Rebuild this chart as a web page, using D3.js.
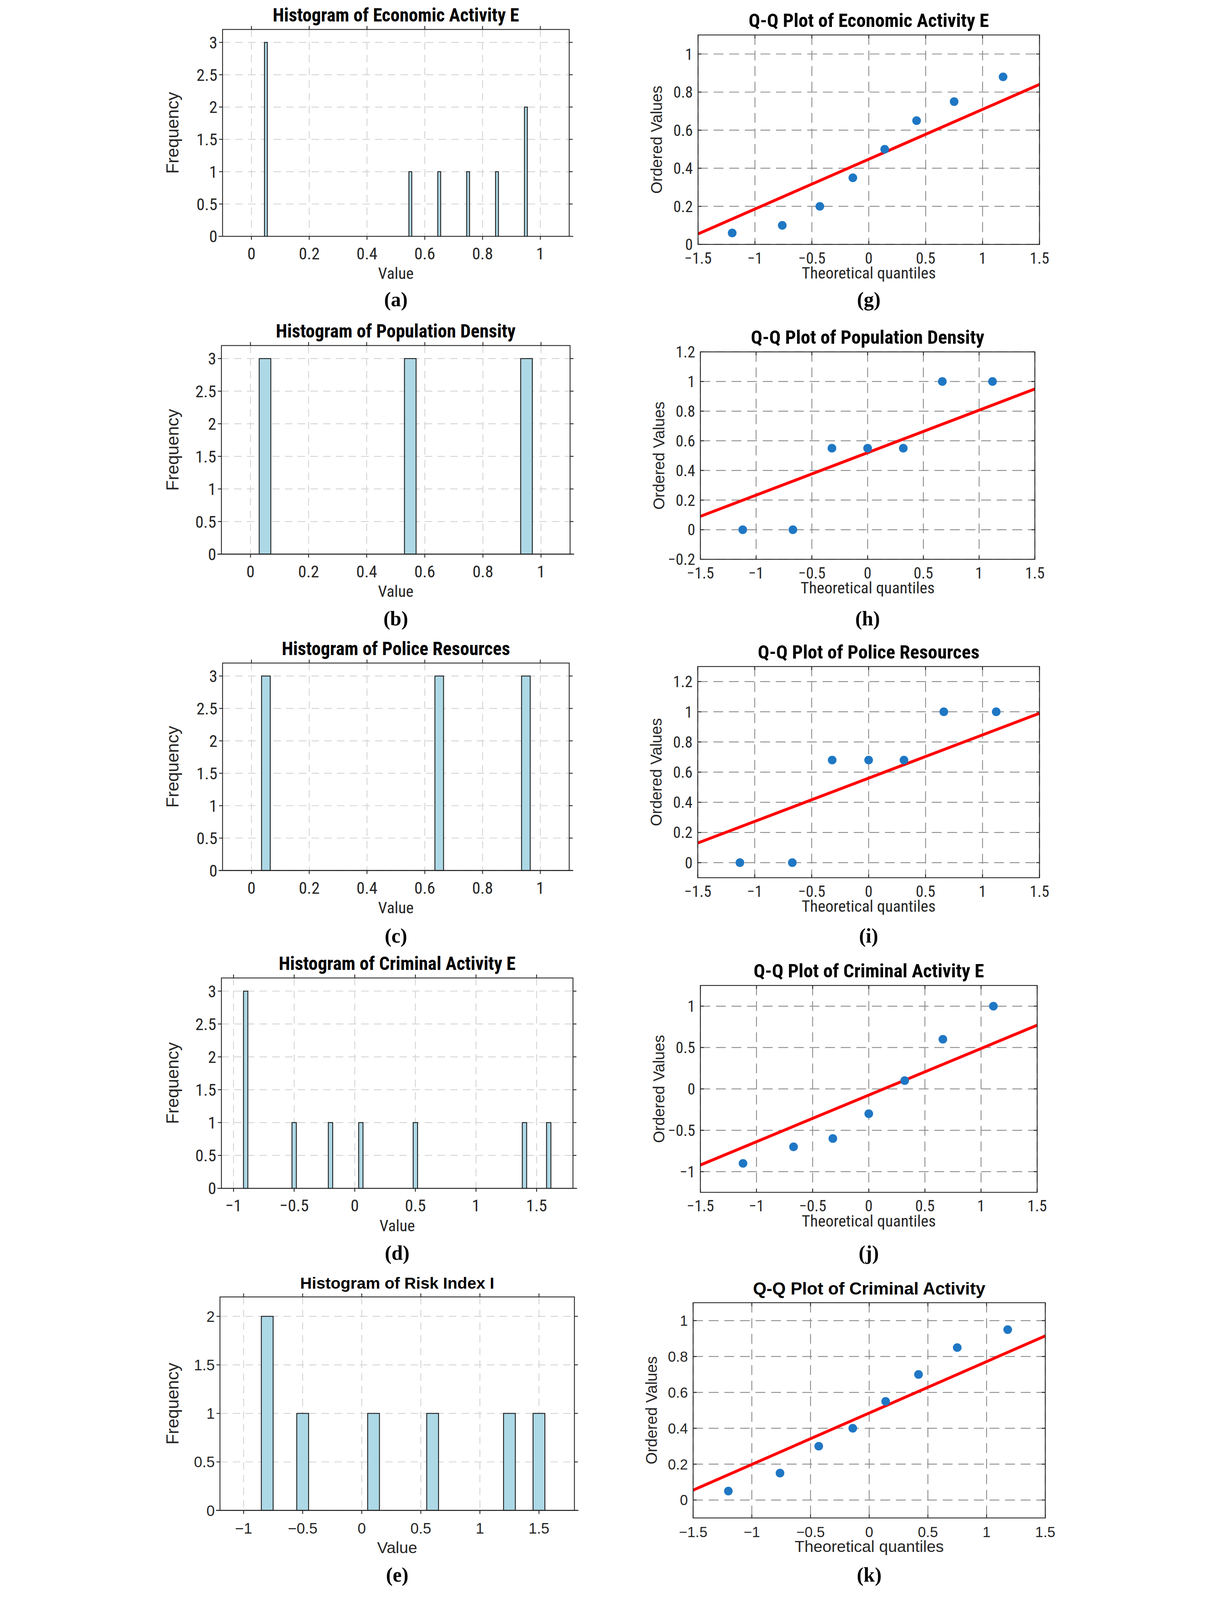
<!DOCTYPE html>
<html><head><meta charset="utf-8">
<script src="https://cdn.jsdelivr.net/npm/d3@7"></script>
<style>html,body{margin:0;padding:0;background:#fff;overflow:hidden}svg{display:block}</style>
</head><body>
<script>
// ---- Histogram data ----
const histTitles = ["Histogram of Economic Activity E","Histogram of Population Density","Histogram of Police Resources","Histogram of Criminal Activity E","Histogram of Risk Index I"];
const histLetters = ["(a)","(b)","(c)","(d)","(e)"];
const histBinCenters = [[0.05,0.55,0.65,0.75,0.85,0.95],[0.05,0.55,0.95],[0.05,0.65,0.95],[-0.9,-0.5,-0.2,0.05,0.5,1.4,1.6],[-0.8,-0.5,0.1,0.6,1.25,1.5]];
const histCounts = [[3,1,1,1,1,2],[3,3,3],[3,3,3],[3,1,1,1,1,1,1],[2,1,1,1,1,1]];
const histBinWidth = [0.01,0.04,0.03,0.036,0.1];
const histXDomain = [[-0.1,1.1],[-0.1,1.1],[-0.1,1.1],[-1.1,1.8],[-1.2,1.8]];
const histYDomain = [[0,3.2],[0,3.2],[0,3.2],[0,3.2],[0,2.2]];
const histXTicks = [[0,0.2,0.4,0.6,0.8,1],[0,0.2,0.4,0.6,0.8,1],[0,0.2,0.4,0.6,0.8,1],[-1,-0.5,0,0.5,1,1.5],[-1,-0.5,0,0.5,1,1.5]];
const histYTicks = [[0,0.5,1,1.5,2,2.5,3],[0,0.5,1,1.5,2,2.5,3],[0,0.5,1,1.5,2,2.5,3],[0,0.5,1,1.5,2,2.5,3],[0,0.5,1,1.5,2]];
// ---- Q-Q data ----
const qqTitles = ["Q-Q Plot of Economic Activity E","Q-Q Plot of Population Density","Q-Q Plot of Police Resources","Q-Q Plot of Criminal Activity E","Q-Q Plot of Criminal Activity"];
const qqLetters = ["(g)","(h)","(i)","(j)","(k)"];
const qqTheoretical = [[-1.2,-0.76,-0.43,-0.14,0.14,0.42,0.75,1.18],[-1.12,-0.67,-0.32,0,0.32,0.67,1.12],[-1.13,-0.67,-0.32,0,0.31,0.66,1.12],[-1.12,-0.67,-0.32,0,0.32,0.66,1.11],[-1.2,-0.76,-0.43,-0.14,0.14,0.42,0.75,1.18]];
const qqOrdered = [[0.06,0.1,0.2,0.35,0.5,0.65,0.75,0.88],[0,0,0.55,0.55,0.55,1,1],[0,0,0.68,0.68,0.68,1,1],[-0.9,-0.7,-0.6,-0.3,0.1,0.6,1.0],[0.05,0.15,0.3,0.4,0.55,0.7,0.85,0.95]];
const qqLineEnds = [[0.055,0.84],[0.09,0.95],[0.13,0.99],[-0.92,0.77],[0.055,0.915]];
const qqXDomain = [-1.5,1.5];
const qqXTicks = [-1.5,-1,-0.5,0,0.5,1,1.5];
const qqYDomain = [[0,1.1],[-0.2,1.2],[-0.1,1.3],[-1.25,1.25],[-0.1,1.1]];
const qqYTicks = [[0,0.2,0.4,0.6,0.8,1],[-0.2,0,0.2,0.4,0.6,0.8,1,1.2],[0,0.2,0.4,0.6,0.8,1,1.2],[-1,-0.5,0,0.5,1],[0,0.2,0.4,0.6,0.8,1]];

// ---- layout ----
const W=3116,H=5538;
const leftBoxes=[[222,102,1422,818],[218,1196,1425,1918],[222,2295,1422,3013],[218,3385,1435,4113],[213,4489,1440,5228]];
const rightBoxes=[[1868,121,3050,846],[1876,1218,3034,1936],[1867,2307,3050,3038],[1876,3411,3042,4127],[1851,4509,3070,5254]];
const letterY=[1060,2165,3262,4360,5475];
const NARROW='"Liberation Sans Narrow","Arial Narrow","Roboto Condensed",sans-serif';
const SANS='"Liberation Sans",Arial,sans-serif';
const fmt=v=>(v<0?"\u2212":"")+String(Math.abs(v));

const svg=d3.select("body").append("svg")
  .attr("viewBox",`0 0 ${W} ${H}`).attr("preserveAspectRatio","xMidYMin meet")
  .style("width","100vw").style("height","100vh");
svg.append("rect").attr("width",W).attr("height",H).attr("fill","#fff");

function panel(box,xd,yd,xt,yt,opts){
  const [x0,y0,x1,y1]=box;
  const x=d3.scaleLinear().domain(xd).range([x0,x1]);
  const y=d3.scaleLinear().domain(yd).range([y1,y0]);
  const g=svg.append("g");
  const narrow=opts.narrowTicks?NARROW:SANS;
  g.append("g").selectAll("line").data(xt).join("line")
   .attr("x1",d=>x(d)).attr("x2",d=>x(d)).attr("y1",y0).attr("y2",y1)
   .attr("stroke",opts.gridColor).attr("stroke-width",opts.gridW).attr("stroke-dasharray",opts.dash);
  g.append("g").selectAll("line").data(yt).join("line")
   .attr("x1",x0).attr("x2",x1).attr("y1",d=>y(d)).attr("y2",d=>y(d))
   .attr("stroke",opts.gridColor).attr("stroke-width",opts.gridW).attr("stroke-dasharray",opts.dash);
  opts.draw(g,x,y);
  g.append("rect").attr("x",x0).attr("y",y0).attr("width",x1-x0).attr("height",y1-y0)
   .attr("fill","none").attr("stroke","#262626").attr("stroke-width",3);
  const tl=12, s=opts.outTicks?tl:-tl;
  g.append("g").selectAll("line").data(xt).join("line")
   .attr("x1",d=>x(d)).attr("x2",d=>x(d)).attr("y1",y0-s).attr("y2",y0).attr("stroke","#262626").attr("stroke-width",3);
  g.append("g").selectAll("line").data(xt).join("line")
   .attr("x1",d=>x(d)).attr("x2",d=>x(d)).attr("y1",y1).attr("y2",y1+s).attr("stroke","#262626").attr("stroke-width",3);
  g.append("g").selectAll("line").data(yt).join("line")
   .attr("x1",x1).attr("x2",x1+s).attr("y1",d=>y(d)).attr("y2",d=>y(d)).attr("stroke","#262626").attr("stroke-width",3);
  g.append("g").selectAll("line").data(yt).join("line")
   .attr("x1",x0-s).attr("x2",x0).attr("y1",d=>y(d)).attr("y2",d=>y(d)).attr("stroke","#262626").attr("stroke-width",3);
  g.append("g").selectAll("text").data(xt).join("text")
   .attr("x",d=>x(d)).attr("y",y1+opts.tickOff).attr("text-anchor","middle")
   .attr("font-family",narrow).attr("font-size",opts.tickSize).attr("fill","#262626").text(fmt);
  g.append("g").selectAll("text").data(yt).join("text")
   .attr("x",x0-18).attr("y",d=>y(d)).attr("dy","0.36em").attr("text-anchor","end")
   .attr("font-family",narrow).attr("font-size",opts.tickSize).attr("fill","#262626").text(fmt);
  g.append("text").attr("x",(x0+x1)/2).attr("y",y0-28).attr("text-anchor","middle")
   .attr("font-family",opts.narrowTitle?NARROW:SANS).attr("font-weight","bold").attr("font-size",opts.titleSize).attr("fill","#000").text(opts.title);
  g.append("text").attr("x",(x0+x1)/2).attr("y",y1+opts.xlabOff).attr("text-anchor","middle")
   .attr("font-family",opts.narrowX?NARROW:SANS).attr("font-size",56).attr("fill","#262626").text(opts.xlabel);
  g.append("text").attr("transform",`translate(${opts.ylabelX},${(y0+y1)/2}) rotate(-90)`).attr("text-anchor","middle")
   .attr("font-family",SANS).attr("font-size",opts.ylabelSize).attr("fill","#262626").text(opts.ylabel);
  g.append("text").attr("x",(x0+x1)/2).attr("y",opts.letterY).attr("text-anchor","middle")
   .attr("font-family",'"Liberation Serif","Times New Roman",serif').attr("font-weight","bold").attr("font-size",70).attr("fill","#000").text(opts.letter);
}

histTitles.forEach((t,i)=>{
  const last=i===4;
  panel(leftBoxes[i],histXDomain[i],histYDomain[i],histXTicks[i],histYTicks[i],{
    title:t,letter:histLetters[i],letterY:letterY[i],xlabel:"Value",ylabel:"Frequency",
    gridColor:"#d4d4d4",gridW:3,dash:"26,18",outTicks:true,narrowTicks:!last,narrowTitle:!last,narrowX:!last,
    tickSize:last?52:58,titleSize:last?56:64,ylabelX:70,ylabelSize:60,tickOff:80,xlabOff:148,
    draw:(g,x,y)=>{
      g.append("g").selectAll("rect").data(histBinCenters[i].map((c,j)=>({c,n:histCounts[i][j]}))).join("rect")
       .attr("x",d=>x(d.c-histBinWidth[i]/2)).attr("width",d=>x(d.c+histBinWidth[i]/2)-x(d.c-histBinWidth[i]/2))
       .attr("y",d=>y(d.n)).attr("height",d=>y(0)-y(d.n))
       .attr("fill","#add8e6").attr("stroke","#1a1a1a").attr("stroke-width",3);
      const [x0,,x1,y1]=leftBoxes[i];
      g.append("line").attr("x1",x0-14).attr("x2",x1+14).attr("y1",y1).attr("y2",y1).attr("stroke","#262626").attr("stroke-width",3);
    }
  });
});

qqTitles.forEach((t,i)=>{
  const last=i===4;
  panel(rightBoxes[i],qqXDomain,qqYDomain[i],qqXTicks,qqYTicks[i],{
    title:t,letter:qqLetters[i],letterY:letterY[i],xlabel:"Theoretical quantiles",ylabel:"Ordered Values",
    gridColor:"#8a8a8a",gridW:3,dash:"34,20",outTicks:false,narrowTicks:!last,narrowTitle:!last,narrowX:!last,
    tickSize:last?50:54,titleSize:last?60:66,ylabelX:rightBoxes[i][0]-125,ylabelSize:54,tickOff:66,xlabOff:118,
    draw:(g,x,y)=>{
      const pts=qqTheoretical[i].map((q,j)=>[q,qqOrdered[i][j]]);
      g.append("line").attr("x1",x(qqXDomain[0])).attr("y1",y(qqLineEnds[i][0]))
       .attr("x2",x(qqXDomain[1])).attr("y2",y(qqLineEnds[i][1]))
       .attr("stroke","#ff0000").attr("stroke-width",10);
      g.append("g").selectAll("circle").data(pts).join("circle")
       .attr("cx",d=>x(d[0])).attr("cy",d=>y(d[1])).attr("r",15).attr("fill","#1f77c4");
    }
  });
});
</script>
</body></html>
